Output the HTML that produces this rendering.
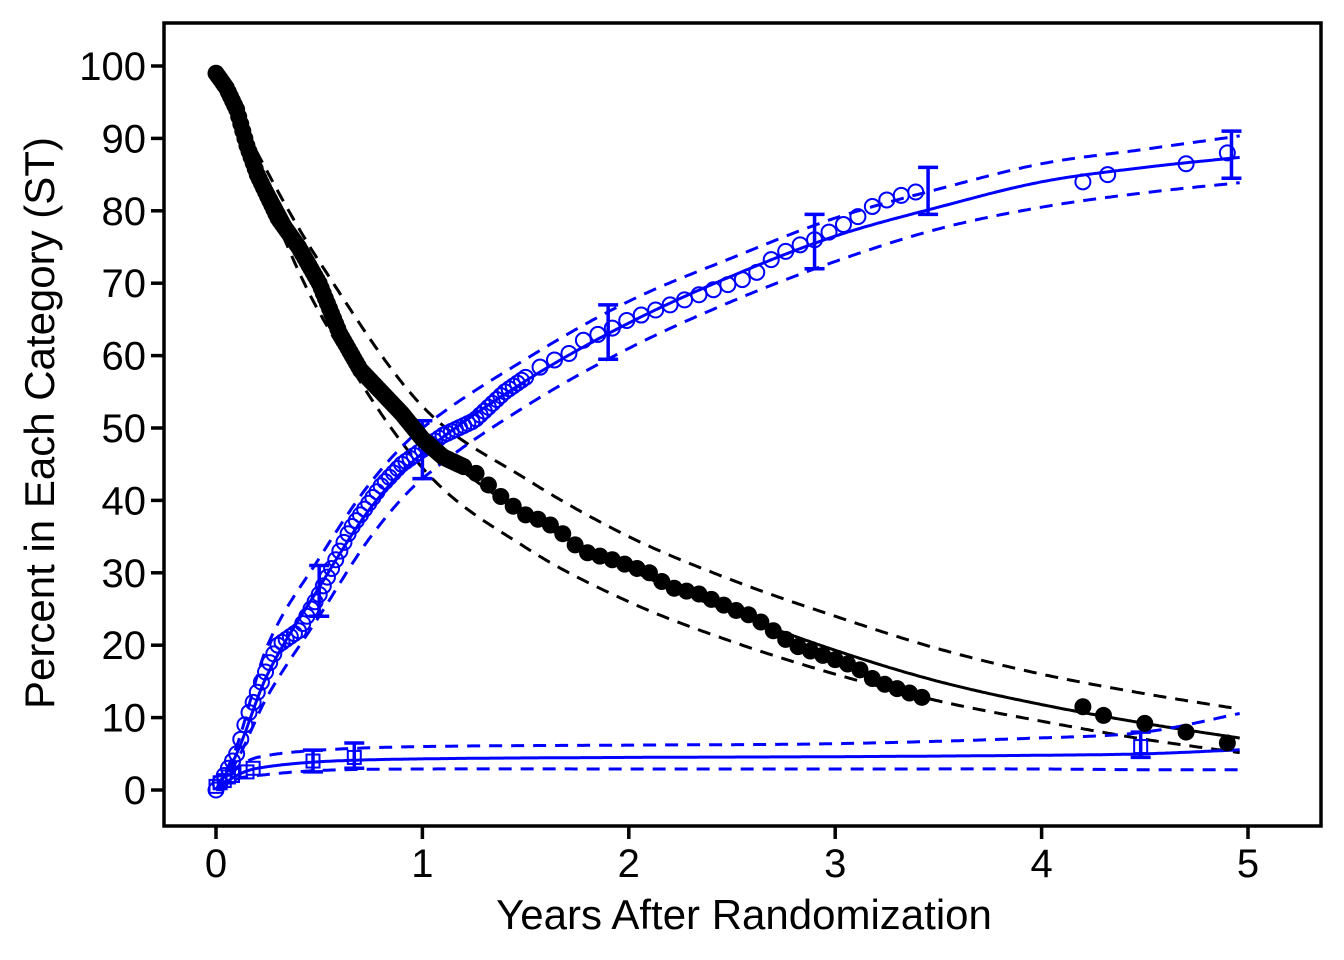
<!DOCTYPE html><html><head><meta charset="utf-8"><style>body{margin:0;background:#fff}svg{display:block}text{font-family:"Liberation Sans",sans-serif;fill:#000}</style></head><body>
<svg id="s" width="1344" height="960" xmlns="http://www.w3.org/2000/svg">
<rect x="0" y="0" width="1344" height="960" fill="#fff"/>
<rect x="164" y="23" width="1157" height="803" fill="none" stroke="#000" stroke-width="3.5"/>
<g id="g"></g>
<text x="744" y="929" font-size="42" text-anchor="middle">Years After Randomization</text>
<text transform="translate(54,423) rotate(-90)" font-size="42" text-anchor="middle">Percent in Each Category (ST)</text>
</svg>
<script>
const X=t=>216+t*206.4, Y=v=>790-v*7.24;
let h="";
for(let i=0;i<=10;i++){const y=Y(i*10);h+=`<line x1="151" x2="164" y1="${y}" y2="${y}" stroke="#000" stroke-width="3.5"/><text x="146" y="${y+14}" font-size="40" text-anchor="end">${i*10}</text>`;}
for(let i=0;i<=5;i++){const x=X(i);h+=`<line x1="${x}" x2="${x}" y1="826" y2="839" stroke="#000" stroke-width="3.5"/><text x="${x}" y="877" font-size="40" text-anchor="middle">${i}</text>`;}
function cr(k,t){let i=0;while(i<k.length-2&&t>k[i+1][0])i++;const p0=k[Math.max(i-1,0)],p1=k[i],p2=k[i+1],p3=k[Math.min(i+2,k.length-1)];
const u=(t-p1[0])/(p2[0]-p1[0]);const m1=(p2[1]-p0[1])/(p2[0]-p0[0]||1)*(p2[0]-p1[0]),m2=(p3[1]-p1[1])/(p3[0]-p1[0]||1)*(p2[0]-p1[0]);
const u2=u*u,u3=u2*u;return (2*u3-3*u2+1)*p1[1]+(u3-2*u2+u)*m1+(-2*u3+3*u2)*p2[1]+(u3-u2)*m2;}
function interp(k,t){for(let i=0;i<k.length-1;i++){if(t<=k[i+1][0]){const a=k[i],b=k[i+1];return a[1]+(b[1]-a[1])*(t-a[0])/(b[0]-a[0]);}}return k[k.length-1][1];}
function curve(k,col,dash){let d="";for(let t=0;t<=4.96;t+=0.01){d+=(d?"L":"M")+X(t).toFixed(1)+","+Y(cr(k,t)).toFixed(1);}h+=`<path d="${d}" fill="none" stroke="${col}" stroke-width="3" ${dash?'stroke-dasharray="13,9"':''}/>`;}
const bk=[[0,99],[0.1,94],[0.2,87],[0.4,76],[0.6,64],[0.8,55],[1,48.5],[1.5,38],[2,30.5],[2.5,24.5],[3,19.3],[3.5,15],[4,11.8],[4.5,9.2],[5,7]];
const bu=[[0,99],[0.1,94.5],[0.2,88],[0.5,73],[1,53],[1.5,43],[2,35],[2.5,29],[3,24],[3.5,19.5],[4,16],[4.5,13.3],[5,11]];
const bl=[[0,99],[0.1,93],[0.2,85],[0.5,66],[1,44.5],[1.5,33.5],[2,26],[2.5,20.5],[3,16],[3.5,12.3],[4,9.5],[4.5,7],[5,5]];
curve(bk,"#000");curve(bu,"#000",1);curve(bl,"#000",1);
const ck=[[0,0],[0.1,5],[0.25,16],[0.5,28],[0.75,39],[1,46.5],[1.5,56.5],[2,64.5],[2.5,71],[3,76.5],[3.5,80.5],[4,84],[4.5,86],[5,87.5]];
const cu=[[0,0],[0.1,6],[0.25,20],[0.5,32],[0.75,42.5],[1,50],[1.5,59.5],[2,67.5],[2.5,73.5],[3,79],[3.5,83],[4,86.5],[4.5,88.5],[5,90.5]];
const cl=[[0,0],[0.1,4],[0.25,13],[0.5,24],[0.75,35],[1,43],[1.5,53],[2,61],[2.5,67.5],[3,73],[3.5,77.5],[4,80.5],[4.5,82.5],[5,84]];
curve(ck,"#00f");curve(cu,"#00f",1);curve(cl,"#00f",1);
const sk=[[0,0],[0.1,2],[0.2,3],[0.5,3.9],[1,4.3],[2,4.5],[3,4.6],[4,4.8],[4.5,5],[5,5.6]];
const su=[[0,0],[0.1,3],[0.2,4.5],[0.5,5.5],[1,6],[2,6.2],[3,6.4],[4,7.2],[4.5,8],[5,10.8]];
const sl=[[0,0],[0.1,1.5],[0.2,2],[0.5,2.7],[1,2.9],[2,2.9],[3,2.9],[4,2.9],[4.5,2.8],[5,2.8]];
curve(sk,"#00f");curve(su,"#00f",1);curve(sl,"#00f",1);
function eb(t,a,b,c){const x=X(t);h+=`<path d="M${x},${Y(a)}V${Y(b)}M${x-10},${Y(a)}h20M${x-10},${Y(b)}h20" stroke="${c}" stroke-width="3.5" fill="none"/>`;}
[[0.5,31,24],[1,51,43],[1.9,67,59.5],[2.9,79.5,72],[3.45,86,79.5],[4.92,91,84.5]].forEach(e=>eb(...e,"#00f"));
[[0.47,5.5,2.5],[0.67,6.5,3],[4.48,8,4.5]].forEach(e=>eb(...e,"#00f"));
const bo=[[0,99],[0.05,97],[0.1,94],[0.15,89],[0.2,85],[0.3,79],[0.4,75],[0.5,70],[0.6,63],[0.7,58],[0.8,55],[0.9,52],[1,48.5],[1.1,46],[1.25,44],[1.4,40],[1.5,38],[1.6,37],[1.7,35],[1.77,33],[1.9,32],[2,31],[2.1,30],[2.2,28],[2.35,27],[2.5,25],[2.6,24],[2.7,22],[2.8,20],[2.9,19],[3,18],[3.1,17],[3.2,15],[3.3,14],[3.45,12.5]];
const co=[[0,0],[0.1,5],[0.15,10],[0.25,17],[0.3,20],[0.4,22],[0.5,27],[0.6,33],[0.65,36],[0.7,38],[0.8,42],[0.9,45],[1,47],[1.1,49],[1.25,51],[1.4,55],[1.5,57],[1.6,59],[1.7,60],[1.77,62],[1.9,63.5],[2,65],[2.2,67],[2.4,69],[2.6,71],[2.7,73.5],[2.8,75],[2.9,76],[3,77.5],[3.1,79],[3.2,81],[3.3,82],[3.45,83]];
function pts(k,step,a,end){const r=[];for(let t=a;t<=end;t+=step)r.push([t,interp(k,t)]);return r;}
pts(co,0.02,0,1.5).concat(pts(co,0.07,1.5,3.45)).concat([[4.2,84],[4.32,85],[4.7,86.5],[4.9,88]]).forEach(p=>h+=`<circle cx="${X(p[0])}" cy="${Y(p[1])}" r="7.5" fill="none" stroke="#00f" stroke-width="2"/>`);
[[0,0.5],[0.02,1],[0.04,1.3],[0.06,1.8],[0.08,2],[0.15,2.5],[0.18,3],[0.47,4],[0.67,4.5],[4.48,6]].forEach(p=>h+=`<rect x="${X(p[0])-6.5}" y="${Y(p[1])-6.5}" width="13" height="13" fill="none" stroke="#00f" stroke-width="2"/>`);
pts(bo,0.01,0,1.2).concat(pts(bo,0.06,1.2,3.45)).concat([[4.2,11.5],[4.3,10.3],[4.5,9.2],[4.7,8],[4.9,6.5]]).forEach(p=>h+=`<circle cx="${X(p[0])}" cy="${Y(p[1])}" r="8.5" fill="#000"/>`);
document.getElementById("g").innerHTML=h;
</script></body></html>
